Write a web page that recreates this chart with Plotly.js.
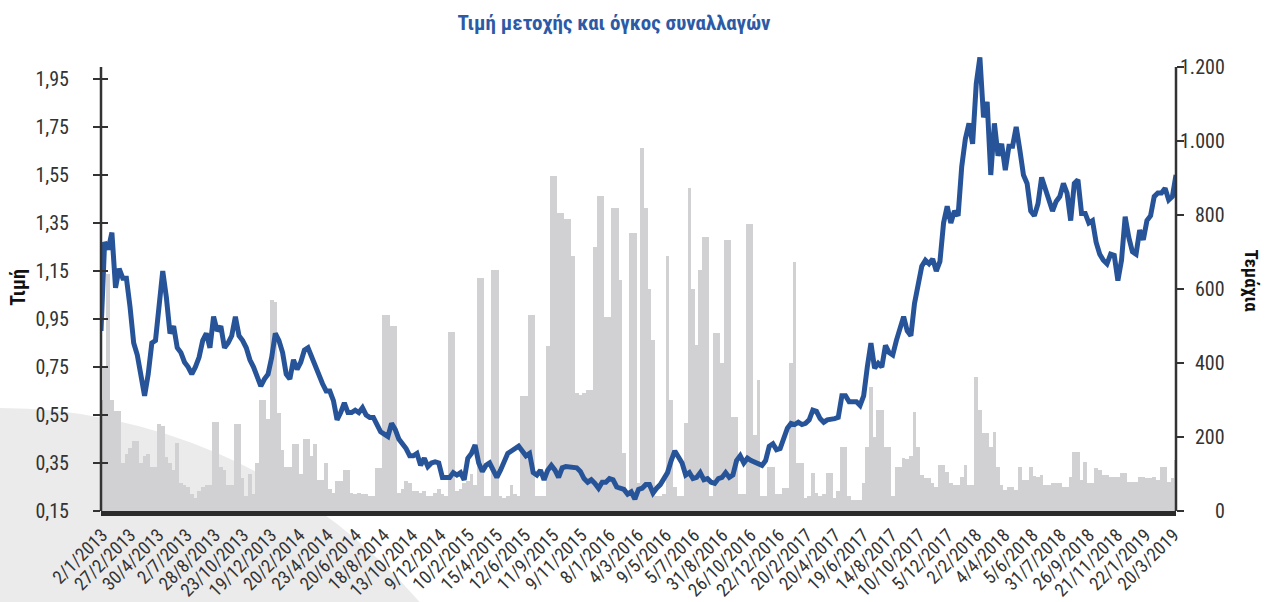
<!DOCTYPE html>
<html>
<head>
<meta charset="utf-8">
<script src="https://cdn.plot.ly/plotly-3.0.1.min.js"></script>
<style>
  html, body { margin: 0; padding: 0; width: 1267px; height: 602px; overflow: hidden; background: #ffffff; }
  #bgshape { position: absolute; left: -567px; top: 408px; width: 1134px; height: 1184px; border-radius: 50%; background: #ebebeb; z-index: 0; }
  #chart { position: absolute; left: 0; top: 0; width: 1267px; height: 602px; z-index: 1; }
</style>
</head>
<body>
<div id="bgshape"></div>
<div id="chart"></div>
<script>
// Date labels on the category axis (one every ~40 trading days)
const dateLabels = ["2/1/2013","27/2/2013","30/4/2013","2/7/2013","28/8/2013","23/10/2013","19/12/2013",
  "20/2/2014","23/4/2014","20/6/2014","18/8/2014","13/10/2014","9/12/2014",
  "10/2/2015","15/4/2015","12/6/2015","11/9/2015","9/11/2015",
  "8/1/2016","4/3/2016","9/5/2016","5/7/2016","31/8/2016","26/10/2016","22/12/2016",
  "20/2/2017","20/4/2017","19/6/2017","14/8/2017","10/10/2017","5/12/2017",
  "2/2/2018","4/4/2018","5/6/2018","31/7/2018","26/9/2018","21/11/2018",
  "22/1/2019","20/3/2019"];

// Share price (EUR), weekly samples
const price2013a = [0.90,1.27,1.24,1.31,1.08,1.16,1.12,1.12,1.00,0.85,0.80,0.71,0.63,0.72,0.85,0.86,1.00,1.15,1.04,0.89,
  0.92,0.83,0.81,0.77,0.75,0.72,0.75,0.79,0.86,0.89,0.83,0.96,0.90,0.92,0.83,0.85,0.88,0.96,0.88,0.86,
  0.83,0.78,0.75,0.71,0.67,0.70,0.72,0.79,0.89,0.86,0.81,0.72,0.70,0.78,0.74,0.77,0.82,0.83,0.79,0.75,
  0.71,0.68,0.65,0.65,0.61,0.53,0.56,0.60,0.56,0.56,0.57,0.56,0.58,0.55,0.54];
const price2014b = [0.54,0.51,0.48,0.47,0.46,0.515,0.49,0.45,0.43,0.41,0.38,0.38,0.39,0.34,0.37,0.335,0.35,0.355,0.35,
  0.29,0.29,0.29,0.31,0.30,0.31,0.28,0.37,0.39,0.425,0.35,0.315,0.34,0.35,0.315,0.29,0.32,0.35,0.39,0.40,
  0.41,0.42,0.40,0.38,0.39,0.31,0.30,0.32,0.28,0.32,0.34,0.32,0.29,0.33,0.335,0.335,0.33,0.33,0.315,0.285,
  0.27,0.28,0.265,0.245,0.27,0.27,0.285,0.28,0.25,0.245,0.24,0.22,0.23,0.20,0.24];
const price2016c = [0.245,0.26,0.26,0.225,0.245,0.26,0.285,0.31,0.36,0.40,0.375,0.35,0.30,0.31,0.285,0.29,0.31,0.28,0.285,
  0.27,0.265,0.285,0.29,0.31,0.29,0.30,0.36,0.38,0.35,0.37,0.36,0.355,0.35,0.34,0.36,0.42,0.43,0.405,0.41,
  0.46,0.495,0.515,0.51,0.52,0.51,0.515,0.53,0.57,0.565,0.535,0.52,0.53,0.53,0.535,0.54,0.63,0.63,0.605,0.605,
  0.605,0.59,0.63,0.75,0.85,0.745,0.765,0.75,0.84,0.81,0.80,0.86,0.905,0.96,0.90];
const price2017d = [0.88,1.015,1.10,1.17,1.195,1.18,1.20,1.15,1.19,1.35,1.42,1.35,1.40,1.38,1.585,1.70,1.765,1.68,1.93,
  2.04,1.79,1.855,1.55,1.765,1.63,1.68,1.57,1.67,1.67,1.75,1.655,1.55,1.515,1.40,1.38,1.43,1.54,1.49,1.45,
  1.40,1.44,1.46,1.515,1.475,1.36,1.515,1.53,1.39,1.39,1.35,1.36,1.27,1.22,1.195,1.18,1.22,1.215,1.11,1.195,
  1.376,1.29,1.23,1.22,1.32,1.28,1.36,1.38,1.46,1.475,1.475,1.495,1.446,1.46,1.55];
const price = price2013a.concat(price2014b, price2016c, price2017d);

// Trading volume (pieces), weekly samples
const vol2013a = [300,390,640,300,270,270,130,155,170,190,190,130,150,155,120,120,235,230,145,130,
  110,185,75,70,65,45,35,55,65,70,70,240,240,120,110,70,70,235,235,90,
  40,100,45,130,300,300,250,570,565,265,165,120,120,180,180,100,195,195,150,180,
  85,85,130,60,50,80,80,110,110,50,45,50,45,45,40];
const vol2014b = [40,115,115,530,530,500,500,48,60,80,75,55,55,50,55,40,40,50,60,
  45,40,485,485,55,60,75,80,100,70,630,630,40,40,650,650,40,35,40,70,
  45,40,310,310,530,530,40,40,40,445,905,905,805,805,790,790,688,318,314,320,
  327,327,714,850,850,525,525,818,818,624,156,40,750,750,75];
const vol2016c = [980,818,600,462,40,40,45,688,300,66,40,40,237,872,600,449,651,741,741,
  40,480,480,400,732,732,255,255,45,45,777,777,205,354,40,40,120,120,45,45,
  61,61,400,674,129,129,35,40,102,50,40,45,102,102,35,55,174,174,40,30,
  30,30,75,174,336,200,273,273,174,174,40,120,120,142,140];
const vol2017d = [150,268,174,97,90,88,75,65,124,124,106,75,70,70,93,124,70,70,363,
  273,210,210,174,214,120,70,57,65,65,57,120,84,84,120,95,93,97,70,70,
  75,75,75,65,65,93,160,160,84,133,75,75,115,110,97,97,93,93,93,102,
  102,79,79,79,93,93,88,88,93,84,120,120,79,90,138];
const volume = vol2013a.concat(vol2014b, vol2016c, vol2017d);

const priceTicks = [0.15,0.35,0.55,0.75,0.95,1.15,1.35,1.55,1.75,1.95];
const priceTickText = ["0,15","0,35","0,55","0,75","0,95","1,15","1,35","1,55","1,75","1,95"];
const volTicks = [0,200,400,600,800,1000,1200];
const volTickText = ["0","200","400","600","800","1.000","1.200"];

const xs = price.map((_, i) => i);            // weekly sample index
const samplesPerLabel = 7.764;                 // label spacing in samples
const labelPos = dateLabels.map((_, j) => 0.3 + j * samplesPerLabel);

const FONT = '"Liberation Sans Narrow", "Roboto Condensed", Roboto, sans-serif';
const TXT = '#333333';

const traces = [
  { type: 'bar', x: xs, y: volume, yaxis: 'y', width: 1,
    marker: { color: '#d1d1d3', line: { width: 0 } }, hoverinfo: 'skip', showlegend: false },
  { type: 'scatter', mode: 'lines', x: xs, y: price, yaxis: 'y2',
    line: { color: '#275499', width: 5 }, hoverinfo: 'skip', showlegend: false },
  { type: 'scatter', mode: 'lines', x: [], y: [], yaxis: 'y3', showlegend: false, hoverinfo: 'skip' }
];

const annotations = volTicks.map((v, k) => ({
  xref: 'paper', yref: 'y', x: 1.0474, y: v, xanchor: 'right', yanchor: 'middle',
  text: volTickText[k], showarrow: false, font: { family: FONT, size: 20, color: TXT }
}));
annotations.push({
  xref: 'paper', yref: 'paper', x: -0.078, y: 0.49, xanchor: 'center', yanchor: 'middle',
  text: '<b>Τιμή</b>', textangle: -90, showarrow: false, font: { family: FONT, size: 20, color: '#111' }
});
annotations.push({
  xref: 'paper', yref: 'paper', x: 1.0705, y: 0.504, xanchor: 'center', yanchor: 'middle',
  text: '<b>Τεμάχια</b>', textangle: 90, showarrow: false, font: { family: FONT, size: 19, color: '#111' }
});

const layout = {
  width: 1267, height: 602,
  margin: { l: 101, r: 91, t: 55, b: 91, pad: 0 },
  paper_bgcolor: 'rgba(0,0,0,0)', plot_bgcolor: 'rgba(0,0,0,0)',
  separators: ',.',
  bargap: 0,
  title: { text: '<b>Τιμή μετοχής και όγκος συναλλαγών</b>', x: 0.4846, xanchor: 'center',
    xref: 'container', yref: 'container', y: 0.962, yanchor: 'middle',
    font: { family: FONT, size: 21, color: '#2d5aa5' } },
  xaxis: { range: [0, 296], tickmode: 'array', tickvals: labelPos, ticktext: dateLabels,
    tickangle: -45, ticks: '', showgrid: false, zeroline: false, ticklabelstandoff: 1,
    showline: true, linewidth: 5, linecolor: '#2b2b2b',
    tickfont: { family: FONT, size: 18.5, color: TXT } },
  yaxis: { side: 'right', range: [0, 1232.4], tickmode: 'array', tickvals: volTicks,
    showticklabels: false, ticks: 'outside', ticklen: 7, tickwidth: 2, tickcolor: '#333',
    showgrid: false, zeroline: false, showline: false },
  yaxis2: { overlaying: 'y', side: 'left', range: [0.15, 2.05], tickmode: 'array',
    tickvals: priceTicks, ticktext: priceTickText, ticks: 'outside', ticklen: 7, tickwidth: 2,
    tickcolor: '#333', ticklabelstandoff: 20, showgrid: false, zeroline: false, showline: false,
    tickfont: { family: FONT, size: 20, color: TXT } },
  yaxis3: { overlaying: 'y', side: 'left', range: [0.15, 2.05], tickmode: 'array',
    tickvals: priceTicks, ticks: 'inside', ticklen: 7, tickwidth: 2, tickcolor: '#333',
    showticklabels: false, showgrid: false, zeroline: false, showline: false },
  shapes: [
    { type: 'line', xref: 'paper', yref: 'y2', x0: 0, x1: 0, y0: 0.15, y1: 2.0,
      line: { color: '#333', width: 2.5 } },
    { type: 'line', xref: 'paper', yref: 'y', x0: 1, x1: 1, y0: 0, y1: 1200,
      line: { color: '#333', width: 2.5 } }
  ],
  annotations: annotations
};

Plotly.newPlot('chart', traces, layout, { displayModeBar: false, staticPlot: true });
</script>
</body>
</html>
